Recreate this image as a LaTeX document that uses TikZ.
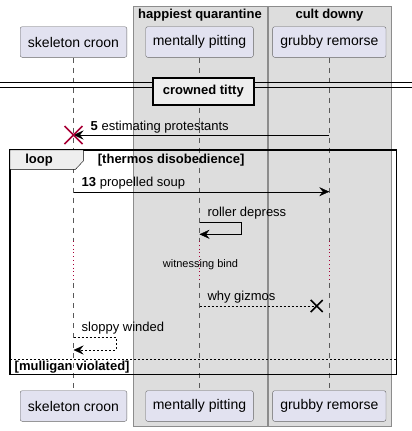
\documentclass[tikz,border=0pt]{standalone}
\usepackage{fontspec}
\setmainfont{Liberation Sans}
\usetikzlibrary{arrows.meta,positioning}
\definecolor{partFill}{HTML}{E2E2F0}
\definecolor{boxFill}{HTML}{DDDDDD}
\definecolor{tabFill}{HTML}{EEEEEE}
\definecolor{destroyRed}{HTML}{A80036}
\newcommand{\croonX}{73.5}
\newcommand{\pittingX}{199.5}
\newcommand{\remorseX}{329.3}
\newcommand{\headY}{42}
\newcommand{\footY}{406}
\newcommand{\delayTop}{241}
\newcommand{\delayBottom}{283}
\newcommand{\partFont}{\fontsize{14}{16}\selectfont}
\newcommand{\msgFont}{\fontsize{13}{15}\selectfont}
\newcommand{\titleFont}{\fontsize{13}{15}\selectfont\bfseries}

\begin{document}
\begin{tikzpicture}[x=1pt, y=-1pt,
    participant/.style={draw=black!60, fill=partFill, rounded corners=2pt,
      minimum height=30.6pt, minimum width=#1, inner xsep=0pt, font=\partFont},
    lifeline/.style={draw=black!65, dash pattern=on 5pt off 5pt},
    msgArrow/.style={-{Stealth[length=10pt,width=9pt,inset=3.5pt]}, thin},
    msgDashed/.style={dash pattern=on 2pt off 2pt},
    msgLabel/.style={anchor=west, inner sep=0pt, font=\msgFont},
    groupTitle/.style={font=\titleFont, inner sep=0pt}]
  \useasboundingbox (0,0) rectangle (412,431);
  % boxes round the grouped participants
  \draw[draw=black!45, fill=boxFill] (133.3,6) rectangle (266.7,426);
  \draw[draw=black!45, fill=boxFill] (268.3,6) rectangle (390.7,426);
  \node[groupTitle] (quarantineTitle) at (200,15) {happiest quarantine};
  \node[groupTitle] (downyTitle) at (329.5,15) {cult downy};
  % participants, head and foot
  \node[participant=106.6pt] (croonHead) at (\croonX,\headY) {skeleton croon};
  \node[participant=107.6pt] (pittingHead) at (\pittingX,\headY) {mentally pitting};
  \node[participant=113.3pt] (remorseHead) at (\remorseX,\headY) {grubby remorse};
  \node[participant=106.6pt] (croonFoot) at (\croonX,\footY) {skeleton croon};
  \node[participant=107.6pt] (pittingFoot) at (\pittingX,\footY) {mentally pitting};
  \node[participant=113.3pt] (remorseFoot) at (\remorseX,\footY) {grubby remorse};
  % lifelines, dotted over the delay
  \foreach \who/\x in {croon/\croonX, pitting/\pittingX, remorse/\remorseX} {
    \coordinate (\who DelayTop) at (\x,\delayTop);
    \coordinate (\who DelayBottom) at (\x,\delayBottom);
    \draw[lifeline] (\who Head.south) -- (\who DelayTop);
    \draw[destroyRed, dash pattern=on 0.8pt off 3pt] (\who DelayTop) -- (\who DelayBottom);
    \draw[lifeline] (\who DelayBottom) -- (\who Foot.north);
  }
  % divider
  \coordinate (dividerLeft) at (0,87.3);
  \coordinate (dividerRight) at (412,87.3);
  \draw[line width=0.9pt] (dividerLeft) -- (dividerRight);
  \draw[line width=0.9pt] ([yshift=5pt]dividerLeft) -- ([yshift=5pt]dividerRight);
  \node[draw, line width=1.6pt, fill=tabFill, minimum width=101pt, minimum height=27pt,
    font=\titleFont] (dividerBox) at (203.3,91.3) {crowned titty};
  % message 5 and the destroyed participant
  \coordinate (remorseFive) at (\remorseX,135);
  \coordinate (croonFive) at (\croonX,135);
  \draw[msgArrow] (remorseFive) -- (croonFive);
  \node[msgLabel] (fiveLabel) at (90.5,127) {\textbf{5} estimating protestants};
  \draw[destroyRed, line width=1.5pt] ([shift={(-9,-9)}]croonFive) -- ([shift={(9,9)}]croonFive)
    ([shift={(-9,9)}]croonFive) -- ([shift={(9,-9)}]croonFive);
  % loop frame
  \draw[line width=1.5pt] (10,150) rectangle (396.7,374.7);
  \draw[fill=tabFill] (10,150) -- (83.3,150) -- (83.3,161) -- (75.5,169.3) -- (10,169.3) -- cycle;
  \node[groupTitle] (loopTitle) at (39,160) {loop};
  \node[groupTitle, anchor=west] (loopGuard) at (97.7,160) {[thermos disobedience]};
  % message 13
  \coordinate (croonThirteen) at (\croonX,191.7);
  \coordinate (remorseThirteen) at (\remorseX,191.7);
  \draw[msgArrow] (croonThirteen) -- (remorseThirteen);
  \node[msgLabel] (thirteenLabel) at (81.5,182.7) {\textbf{13} propelled soup};
  % self message on mentally pitting
  \coordinate (pittingSelfOut) at (\pittingX,221.7);
  \coordinate (pittingSelfBack) at (\pittingX,234.3);
  \draw[msgArrow] (pittingSelfOut) -- ++(41.8,0) |- (pittingSelfBack);
  \node[msgLabel] (rollerLabel) at (207.3,212.7) {roller depress};
  % delay
  \node[font=\fontsize{11}{13}\selectfont, inner sep=0pt] (delayLabel) at (200.5,264.3) {witnessing bind};
  % lost message
  \coordinate (pittingGizmos) at (\pittingX,306);
  \coordinate (gizmosLost) at (316.7,306);
  \draw[msgDashed] (pittingGizmos) -- (gizmosLost);
  \draw[line width=1.5pt] ([shift={(-6,-6)}]gizmosLost) -- ([shift={(6,6)}]gizmosLost)
    ([shift={(-6,6)}]gizmosLost) -- ([shift={(6,-6)}]gizmosLost);
  \node[msgLabel] (gizmosLabel) at (207.3,297.3) {why gizmos};
  % else part
  \coordinate (elseLeft) at (10,359.3);
  \coordinate (elseRight) at (396.7,359.3);
  \draw[dash pattern=on 2pt off 2pt] (elseLeft) -- (elseRight);
  \node[groupTitle, anchor=west] (elseGuard) at (14.5,367.3) {[mulligan violated]};
  % dashed self message on skeleton croon
  \coordinate (croonSelfOut) at (\croonX,337.3);
  \coordinate (croonSelfBack) at (\croonX,350);
  \draw[msgArrow, msgDashed] (croonSelfOut) -- ++(42.2,0) |- (croonSelfBack);
  \node[msgLabel] (sloppyLabel) at (81.5,327.7) {sloppy winded};
\end{tikzpicture}
\end{document}
